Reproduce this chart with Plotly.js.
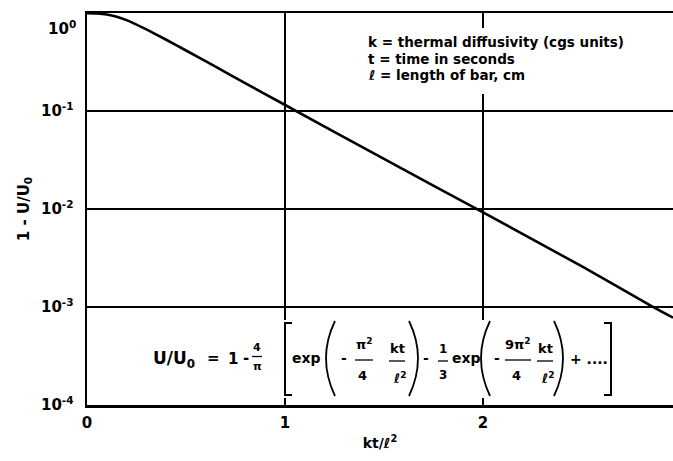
<!DOCTYPE html>
<html>
<head>
<meta charset="utf-8">
<script src="https://cdn.plot.ly/plotly-3.0.1.min.js"></script>
<style>
  html, body { margin: 0; padding: 0; background: #fff; }
  #chart { width: 673px; height: 461px; }
</style>
</head>
<body>
<div id="chart"></div>
<script>
// Dimensionless time kt/l^2 and the unfinished fraction 1 - U/U0
const kt = [0, 0.05, 0.10, 0.15, 0.20, 0.25, 0.30, 0.40, 0.50, 0.64, 0.81, 0.98, 1.50, 1.97, 2.50, 2.86, 2.96];
const remaining = [1.0, 0.995, 0.973, 0.923, 0.851, 0.767, 0.684, 0.537, 0.417, 0.292, 0.188, 0.122, 0.0326, 0.0100, 0.0026, 0.0010, 0.00078];

// Axis ticks
const xTicks = [0, 1, 2];
const xTickText = ['0', '1', '2'];
const yTicks = [1, 0.1, 0.01, 0.001, 0.0001];
const yTickText = ['', '10<sup>-1</sup>', '10<sup>-2</sup>', '10<sup>-3</sup>', '10<sup>-4</sup>'];
const topTickText = '10<sup>0</sup>';

// Notes on the symbols
const notes = [
  'k = thermal diffusivity (cgs units)',
  't = time in seconds',
  '\u2113 = length of bar, cm'
];

const W = 673, H = 461;
const M = { l: 87, r: 0, t: 13, b: 56 };
const PW = W - M.l - M.r, PH = H - M.t - M.b;
const px = x => (x - M.l) / PW;
const py = y => (H - M.b - y) / PH;

const FONT = '"DejaVu Sans", Verdana, sans-serif';
const INK = '#000';

const annotations = [];
const shapes = [];

function txt(text, x, y, size, opts) {
  annotations.push(Object.assign({
    text: text, x: px(x), y: py(y), xref: 'paper', yref: 'paper',
    showarrow: false, xanchor: 'center', yanchor: 'middle',
    font: { family: FONT, size: size, color: INK, weight: 700 }
  }, opts || {}));
}
function whiteBox(x0, y0, x1, y1) {
  shapes.push({ type: 'rect', xref: 'paper', yref: 'paper', layer: 'above',
    x0: px(x0), x1: px(x1), y0: py(y1), y1: py(y0),
    fillcolor: '#fff', line: { width: 0 } });
}
function bar(x0, x1, y) {
  shapes.push({ type: 'line', xref: 'paper', yref: 'paper', layer: 'above',
    x0: px(x0), x1: px(x1), y0: py(y), y1: py(y), line: { color: INK, width: 1.3 } });
}
function pathPx(pts) {
  // pts: list of [cmd, x, y, ...] in pixel space
  return pts.map(p => p[0] + ' ' + p.slice(1).map((v, i) => (i % 2 === 0 ? px(v) : py(v))).join(' ')).join(' ');
}
function path(d, w) {
  shapes.push({ type: 'path', xref: 'paper', yref: 'paper', layer: 'above',
    path: d, line: { color: INK, width: w } });
}

// Blank panels behind the two text blocks
whiteBox(358, 28, 640, 94);
whiteBox(138, 320, 622, 398);

// Notes block
notes.forEach((n, i) => txt(n, 366, 42 + i * 16.5, 13.5, { xanchor: 'left' }));

// Label for the top decade, set a little below the frame
txt(topTickText, 78, 28, 15, { xanchor: 'right' });

// Series expression
txt('U/U<sub>0</sub>', 174, 359, 17);
txt('=', 213, 358, 15);
txt('1', 233, 359, 15);
txt('-', 246, 358, 15);
txt('4', 257, 347, 11); bar(252, 262, 356.5); txt('\u03c0', 257, 366, 11);
path(pathPx([['M', 292, 323], ['L', 285, 323], ['L', 285, 395], ['L', 292, 395]]), 2);
txt('exp', 306, 358, 14);
path(pathPx([['M', 335, 321], ['Q', 317, 358, 335, 396]]), 1.8);
txt('-', 344, 358, 14);
txt('\u03c0<sup>2</sup>', 364, 344, 13); bar(355, 373, 360); txt('4', 362, 375, 13);
txt('kt', 397, 348, 13); bar(389, 405, 361); txt('\u2113<sup>2</sup>', 399, 378, 13);
path(pathPx([['M', 409, 321], ['Q', 427, 358, 409, 396]]), 1.8);
txt('-', 426, 358, 14);
txt('1', 443, 349, 12); bar(438, 448, 361); txt('3', 443, 375, 12);
txt('exp', 466, 358, 14);
path(pathPx([['M', 490, 321], ['Q', 472, 358, 490, 396]]), 1.8);
txt('-', 497, 358, 14);
txt('9\u03c0<sup>2</sup>', 518, 344, 13); bar(505, 531, 360); txt('4', 516, 375, 13);
txt('kt', 545, 348, 13); bar(537, 553, 361); txt('\u2113<sup>2</sup>', 547, 378, 13);
path(pathPx([['M', 554, 321], ['Q', 572, 358, 554, 396]]), 1.8);
txt('+ ....', 589, 359, 14);
path(pathPx([['M', 604, 323], ['L', 611, 323], ['L', 611, 395], ['L', 604, 395]]), 2);

const trace = {
  x: kt, y: remaining, type: 'scatter', mode: 'lines',
  line: { color: INK, width: 2.6, shape: 'spline', smoothing: 0.5 },
  hoverinfo: 'skip', showlegend: false
};

const layout = {
  width: W, height: H,
  margin: M,
  paper_bgcolor: '#fff', plot_bgcolor: '#fff',
  showlegend: false,
  font: { family: FONT, color: INK, size: 14, weight: 700 },
  xaxis: {
    range: [0, PW / 198],
    tickmode: 'array', tickvals: xTicks, ticktext: xTickText,
    ticks: '', showgrid: true, gridcolor: INK, gridwidth: 2,
    zeroline: false, showline: true, linecolor: INK, linewidth: 2.5, mirror: true,
    tickfont: { family: FONT, size: 15, color: INK, weight: 700 },
    ticklabelstandoff: 2,
    title: { text: 'kt/\u2113<sup>2</sup>', font: { family: FONT, size: 14, color: INK, weight: 700 }, standoff: 8 }
  },
  yaxis: {
    type: 'log', range: [-4, 0.003],
    tickmode: 'array', tickvals: yTicks, ticktext: yTickText,
    ticks: '', showgrid: true, gridcolor: INK, gridwidth: 2,
    zeroline: false, showline: true, linecolor: INK, linewidth: 2.5, mirror: false,
    tickfont: { family: FONT, size: 15, color: INK, weight: 700 },
    ticklabelstandoff: 8,
    title: { text: '1 - U/U<sub>0</sub>', font: { family: FONT, size: 15, color: INK, weight: 700 }, standoff: 8 }
  },
  shapes: shapes,
  annotations: annotations
};

Plotly.newPlot('chart', [trace], layout, { staticPlot: true, displayModeBar: false });
</script>
</body>
</html>
